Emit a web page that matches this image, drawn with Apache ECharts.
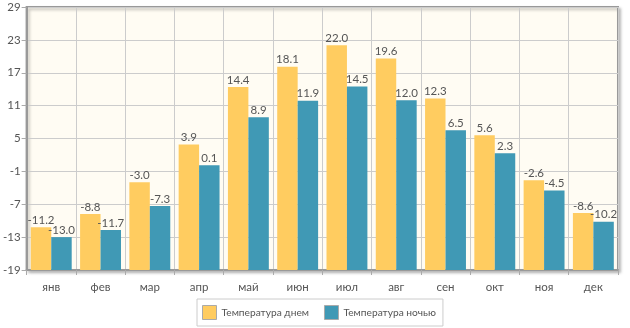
<!DOCTYPE html>
<html>
<head>
<meta charset="utf-8">
<script src="https://cdn.jsdelivr.net/npm/echarts@6/dist/echarts.min.js"></script>
<style>
html,body{margin:0;padding:0;background:#fff;}
#chart{width:630px;height:328px;}
</style>
</head>
<body>
<div id="chart"></div>
<script>
const categories = ['янв','фев','мар','апр','май','июн','июл','авг','сен','окт','ноя','дек'];
const dayTemps = [-11.2, -8.8, -3.0, 3.9, 14.4, 18.1, 22.0, 19.6, 12.3, 5.6, -2.6, -8.6];
const nightTemps = [-13.0, -11.7, -7.3, 0.1, 8.9, 11.9, 14.5, 12.0, 6.5, 2.3, -4.5, -10.2];
const seriesNames = ['Температура днем', 'Температура ночью'];
const yMin = -19, yMax = 29, yStep = 6;

// bars rise from the axis floor (yMin), so values are plotted relative to it
const rel = arr => arr.map(v => +(v - yMin).toFixed(2));
const font = 'Lato, "Open Sans", sans-serif';

const chart = echarts.init(document.getElementById('chart'));
const labelCfg = {
  show: true, position: 'top', distance: 1,
  color: '#555', fontSize: 11.5, fontFamily: font,
  formatter: p => (p.value + yMin).toFixed(1)
};
chart.setOption({
  animation: false,
  textStyle: {fontFamily: font},
  grid: {
    left: 24, right: 12, top: 7, bottom: 58,
    show: true, backgroundColor: '#fffcf3',
    borderColor: '#999', borderWidth: 2,
    shadowColor: 'rgba(0,0,0,0.25)', shadowBlur: 3, shadowOffsetX: 2, shadowOffsetY: 2
  },
  legend: {
    left: 197, top: 299,
    backgroundColor: '#fff', borderColor: '#ccc', borderWidth: 1,
    padding: [6, 7, 6, 5], itemGap: 15,
    itemWidth: 14, itemHeight: 14, icon: 'rect',
    textStyle: {color: '#555', fontSize: 10.2, fontFamily: font},
    data: seriesNames.map(n => ({name: n, itemStyle: {borderColor: '#aaa', borderWidth: 1}}))
  },
  xAxis: {
    type: 'category', data: categories,
    axisLine: {lineStyle: {color: '#999', width: 2}},
    axisTick: {show: true, length: 5, lineStyle: {color: '#aaa'}},
    axisLabel: {color: '#555', fontSize: 11.5, fontFamily: font, margin: 11},
    splitLine: {show: true, lineStyle: {color: '#ccc'}}
  },
  yAxis: {
    type: 'value', min: 0, max: yMax - yMin, interval: yStep,
    axisLine: {show: true, lineStyle: {color: '#999', width: 2}},
    axisTick: {show: true, length: 5, lineStyle: {color: '#aaa'}},
    axisLabel: {color: '#555', fontSize: 11.5, fontFamily: font, margin: 6,
      formatter: v => String(v + yMin)},
    splitLine: {show: true, lineStyle: {color: '#ccc'}}
  },
  series: [
    {name: seriesNames[0], type: 'bar', data: rel(dayTemps), barGap: '0%', barCategoryGap: '17%',
     itemStyle: {color: '#ffcc60'}, label: labelCfg},
    {name: seriesNames[1], type: 'bar', data: rel(nightTemps),
     itemStyle: {color: '#4099b5'}, label: labelCfg}
  ]
});
</script>
</body>
</html>
